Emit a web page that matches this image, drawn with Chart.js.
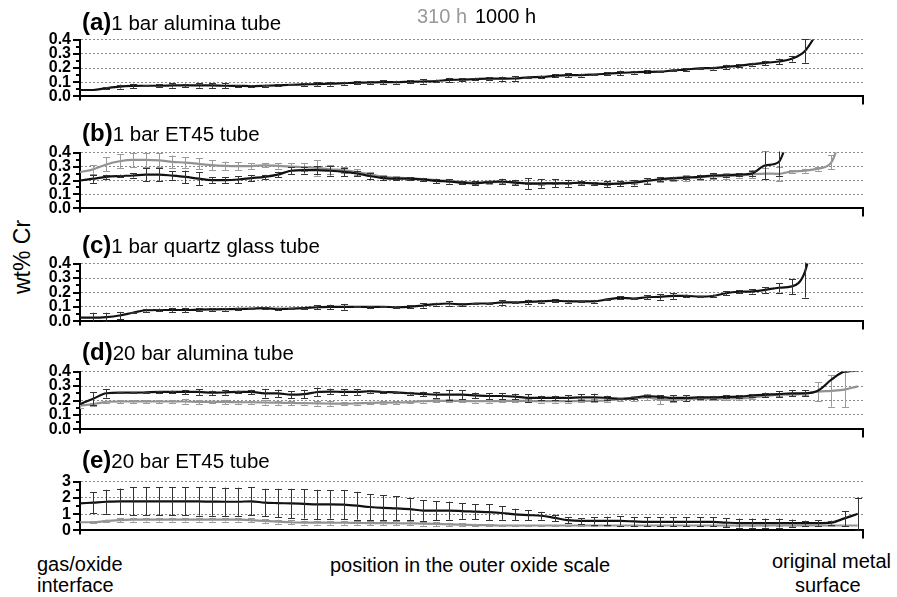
<!DOCTYPE html>
<html>
<head>
<meta charset="utf-8">
<script src="https://cdn.jsdelivr.net/npm/chart.js@4.4.1/dist/chart.umd.min.js"></script>
<style>
	body { margin: 0; width: 897px; height: 597px; background: #fff; position: relative; overflow: hidden;
		font-family: "Liberation Sans", Arial, sans-serif; color: #000; }
	canvas { position: absolute; left: 0; }
	.t { position: absolute; white-space: nowrap; font-size: 20px; line-height: 20px; z-index: 2; }
	.title { position: absolute; left: 82px; white-space: nowrap; font-size: 24px; line-height: 24px; z-index: 2; }
	.title b { font-size: 24px; }
	.title span { font-size: 20.5px; }
	.ylab { position: absolute; left: 22px; top: 257px; font-size: 23px; line-height: 23px; white-space: nowrap;
		transform: translate(-50%, -50%) rotate(-90deg); }
</style>
</head>
<body>

<div class="t" style="left:417px;top:6px;color:#999">310 h</div>
<div class="t" style="left:475px;top:6px">1000 h</div>

<div class="title" style="top:10px"><b>(a)</b><span>1 bar alumina tube</span></div>
<div class="title" style="top:121px"><b>(b)</b><span>1 bar ET45 tube</span></div>
<div class="title" style="top:233px"><b>(c)</b><span>1 bar quartz glass tube</span></div>
<div class="title" style="top:340px"><b>(d)</b><span>20 bar alumina tube</span></div>
<div class="title" style="top:448px"><b>(e)</b><span>20 bar ET45 tube</span></div>

<div class="ylab">wt% Cr</div>

<div class="t" style="left:37px;top:554px">gas/oxide</div>
<div class="t" style="left:37px;top:575px">interface</div>
<div class="t" style="left:330px;top:555px">position in the outer oxide scale</div>
<div class="t" style="left:772px;top:551px">original metal</div>
<div class="t" style="left:795px;top:575px">surface</div>

<script>
// measuring positions along the scale (index of each point)
const positions = [0,1,2,3,4,5,6,7,8,9,10,11,12,13,14,15,16,17,18,19,20,21,22,23,24,25,26,27,28,29,
	30,31,32,33,34,35,36,37,38,39,40,41,42,43,44,45,46,47,48,49,50,51,52,53,54,55,56,57,58,59];

// (a) 1 bar alumina tube
const aBlack = [0.045,0.045,0.058,0.069,0.074,0.075,0.075,0.077,0.078,0.077,0.077,0.075,0.074,0.073,0.075,
	0.078,0.082,0.084,0.087,0.089,0.093,0.097,0.098,0.1,0.1,0.103,0.105,0.108,0.116,0.118,
	0.122,0.125,0.125,0.126,0.135,0.137,0.145,0.15,0.15,0.154,0.16,0.166,0.17,0.173,0.174,
	0.183,0.189,0.198,0.199,0.208,0.215,0.227,0.236,0.246,0.265,0.32,0.46];
const aBlackErr = [0,0,0.005,0.014,0.015,0.005,0.01,0.015,0.012,0.015,0.017,0.017,0.005,0.005,0.008,
	0.008,0.005,0.008,0.012,0.014,0.01,0.012,0.01,0.012,0.01,0.01,0.015,0.01,0.015,0.01,
	0.01,0.01,0.015,0.015,0.005,0.01,0.01,0.015,0.01,0.005,0.01,0.015,0.01,0.01,0.005,
	0.005,0.01,0.005,0.01,0.015,0.01,0.01,0.015,0.02,0.02,0.083,0];

// (b) 1 bar ET45 tube
const bBlack = [0.2,0.213,0.226,0.232,0.236,0.242,0.242,0.235,0.226,0.213,0.203,0.203,0.207,0.217,0.226,
	0.242,0.27,0.275,0.275,0.27,0.262,0.25,0.232,0.217,0.213,0.213,0.207,0.197,0.193,0.184,
	0.18,0.19,0.193,0.185,0.178,0.178,0.18,0.18,0.184,0.178,0.174,0.178,0.184,0.197,0.209,
	0.217,0.222,0.226,0.236,0.238,0.242,0.251,0.309,0.332,0.6];
const bBlackErr = [0,0.03,0.015,0.01,0.015,0.045,0.045,0.03,0.045,0.045,0.02,0.02,0.025,0.02,0.015,
	0.02,0.025,0.025,0.03,0.035,0.03,0.02,0.02,0.015,0.01,0.01,0.01,0.015,0.015,0.01,
	0.015,0.01,0.02,0.02,0.04,0.03,0.03,0.025,0.015,0.01,0.02,0.02,0.02,0.02,0.015,
	0.01,0.01,0.015,0.015,0.01,0.01,0.02,0.1,0.1,0];
const bGray = [0.26,0.28,0.315,0.338,0.348,0.348,0.344,0.334,0.328,0.319,0.31,0.305,0.303,0.303,0.309,
	0.305,0.3,0.295,0.29,0.28,0.275,0.26,0.245,0.226,0.22,0.215,0.21,0.203,0.197,0.19,
	0.185,0.188,0.19,0.185,0.182,0.18,0.182,0.182,0.184,0.18,0.18,0.182,0.188,0.2,0.205,
	0.212,0.218,0.222,0.23,0.232,0.236,0.245,0.25,0.248,0.265,0.27,0.285,0.33,0.6];
const bGrayErr = [0,0.03,0.05,0.05,0.05,0.05,0.05,0.045,0.04,0.04,0.035,0.03,0.03,0.02,0.015,
	0.02,0.025,0.03,0.055,0.03,0.02,0.02,0.015,0.01,0.01,0.01,0.01,0.01,0.01,0.01,
	0.01,0.01,0.01,0.01,0.01,0.01,0.01,0.01,0.01,0.01,0.01,0.01,0.01,0.015,0.015,
	0.015,0.02,0.02,0.02,0.02,0.015,0.03,0.04,0.05,0.01,0.015,0.015,0.05,0];

// (c) 1 bar quartz glass tube
const cBlack = [0.026,0.026,0.03,0.041,0.06,0.077,0.079,0.079,0.079,0.081,0.083,0.085,0.086,0.088,0.092,
	0.086,0.088,0.092,0.098,0.101,0.101,0.101,0.101,0.101,0.098,0.101,0.11,0.12,0.124,0.117,
	0.124,0.124,0.131,0.131,0.135,0.139,0.143,0.139,0.139,0.139,0.152,0.163,0.158,0.167,0.17,
	0.176,0.176,0.172,0.176,0.195,0.205,0.208,0.218,0.233,0.242,0.345,0.75];
const cBlackErr = [0,0.034,0.03,0.025,0.005,0.01,0.01,0.015,0.015,0.01,0.01,0.01,0.01,0.005,0.005,
	0.005,0.003,0.003,0.015,0.015,0.02,0.003,0.005,0.003,0.005,0.01,0.015,0.01,0.015,0.01,
	0.003,0.005,0.015,0.005,0.015,0.01,0.01,0.01,0.005,0.01,0.005,0.01,0.005,0.015,0.02,
	0.02,0.01,0.005,0.01,0.015,0.01,0.015,0.02,0.033,0.053,0.18,0];

// (d) 20 bar alumina tube
const dBlack = [0.175,0.212,0.25,0.254,0.254,0.256,0.259,0.259,0.259,0.259,0.254,0.256,0.259,0.259,0.25,
	0.25,0.24,0.244,0.259,0.262,0.259,0.259,0.264,0.259,0.256,0.25,0.246,0.24,0.24,0.24,
	0.235,0.231,0.231,0.227,0.218,0.218,0.218,0.218,0.222,0.222,0.218,0.212,0.218,0.231,0.225,
	0.218,0.218,0.222,0.222,0.225,0.227,0.235,0.24,0.244,0.25,0.25,0.269,0.344,0.4,0.405];
const dBlackErr = [0,0.045,0.03,0.005,0.005,0.005,0.005,0.01,0.015,0.02,0.015,0.015,0.01,0.015,0.03,
	0.025,0.025,0.03,0.03,0.02,0.02,0.02,0.01,0.005,0.005,0.01,0.015,0.02,0.035,0.03,
	0.02,0.02,0.02,0.02,0.025,0.015,0.015,0.02,0.02,0.025,0.015,0.005,0.005,0.01,0.01,
	0.02,0.02,0.01,0.01,0.01,0.01,0.01,0.015,0.02,0.02,0.02,0,0,0,0];
const dGray = [0.165,0.175,0.19,0.193,0.193,0.193,0.193,0.193,0.193,0.19,0.19,0.19,0.188,0.188,0.186,
	0.185,0.183,0.182,0.18,0.179,0.178,0.18,0.183,0.185,0.186,0.19,0.195,0.197,0.197,0.197,
	0.195,0.195,0.197,0.197,0.197,0.195,0.195,0.195,0.197,0.197,0.2,0.21,0.215,0.222,0.205,
	0.205,0.21,0.212,0.212,0.214,0.215,0.22,0.231,0.24,0.24,0.25,0.262,0.267,0.275,0.298];
const dGrayErr = [0.02,0.01,0.01,0.01,0.01,0.01,0.01,0.01,0.015,0.015,0.01,0.015,0.01,0.01,0.015,
	0.015,0.015,0.01,0.015,0.015,0.01,0.01,0.01,0.01,0.01,0.01,0.01,0.01,0.01,0.01,
	0.01,0.01,0.01,0.01,0.01,0.01,0.01,0.01,0.01,0.01,0.01,0.01,0.015,0.02,0.03,
	0.015,0.01,0.01,0.01,0.01,0.01,0.01,0.01,0.01,0.01,0.01,0.065,0.11,0.12,0];

// (e) 20 bar ET45 tube
const eBlack = [1.66,1.71,1.76,1.79,1.79,1.79,1.79,1.79,1.79,1.78,1.77,1.76,1.76,1.79,1.71,
	1.68,1.66,1.63,1.6,1.6,1.58,1.52,1.44,1.39,1.36,1.31,1.22,1.21,1.21,1.19,
	1.15,1.12,1.07,0.98,0.94,0.9,0.77,0.63,0.58,0.58,0.58,0.58,0.55,0.52,0.52,
	0.52,0.52,0.52,0.52,0.48,0.45,0.45,0.45,0.45,0.45,0.45,0.45,0.48,0.74,1.02];
const eBlackErr = [0,0.65,0.74,0.78,0.87,0.87,0.87,0.87,0.87,0.87,0.87,0.87,0.87,0.87,0.85,
	0.88,0.9,0.9,0.9,0.88,0.88,0.85,0.8,0.78,0.73,0.67,0.63,0.6,0.56,0.48,
	0.47,0.48,0.42,0.35,0.3,0.24,0.2,0.18,0.18,0.22,0.26,0.28,0.28,0.28,0.28,
	0.28,0.28,0.28,0.28,0.28,0.28,0.28,0.28,0.28,0.22,0.15,0.16,0.12,0.46,1.0];
const eGray = [0.5,0.5,0.58,0.63,0.66,0.66,0.66,0.66,0.66,0.66,0.66,0.66,0.66,0.63,0.58,
	0.54,0.5,0.48,0.48,0.47,0.47,0.46,0.45,0.45,0.44,0.43,0.42,0.4,0.37,0.35,
	0.33,0.32,0.3,0.3,0.3,0.3,0.3,0.3,0.3,0.3,0.3,0.3,0.3,0.3,0.3,
	0.3,0.3,0.3,0.3,0.3,0.3,0.3,0.3,0.3,0.3,0.3,0.3,0.3,0.3,0.3];
const eGrayErr = [0,0.05,0.08,0.12,0.12,0.12,0.12,0.12,0.12,0.12,0.12,0.12,0.12,0.12,0.12,
	0.12,0.12,0.12,0.12,0.12,0.12,0.12,0.12,0.12,0.12,0.12,0.12,0.12,0.1,0.1,
	0.08,0.08,0.05,0.05,0.05,0.05,0.05,0.05,0.05,0.05,0.05,0.05,0.05,0.05,0.05,
	0.05,0.05,0.05,0.05,0.05,0.05,0.05,0.05,0.05,0.05,0.05,0.05,0.05,0.05,0];

const BLACK = '#111', BLACK_BAR = '#333', GRAY = '#929292', GRAY_BAR = '#9a9a9a';

const panels = [
	{ top: 33, bottom: 103, max: 0.4, major: 0.1, series: [[aBlack, aBlackErr, BLACK, BLACK_BAR]] },
	{ top: 146, bottom: 215, max: 0.4, major: 0.1, series: [[bBlack, bBlackErr, BLACK, BLACK_BAR], [bGray, bGrayErr, GRAY, GRAY_BAR]] },
	{ top: 257, bottom: 328, max: 0.4, major: 0.1, series: [[cBlack, cBlackErr, BLACK, BLACK_BAR]] },
	{ top: 365, bottom: 436, max: 0.4, major: 0.1, series: [[dBlack, dBlackErr, BLACK, BLACK_BAR], [dGray, dGrayErr, GRAY, GRAY_BAR]] },
	{ top: 475, bottom: 537, max: 3, major: 1, series: [[eBlack, eBlackErr, BLACK, BLACK_BAR], [eGray, eGrayErr, GRAY, GRAY_BAR]] }
];

function isMajor(v, major) {
	const r = v / major;
	return Math.abs(r - Math.round(r)) < 1e-6;
}

// error bars, drawn right after their own line
const errorBars = {
	id: 'errorBars',
	afterDatasetDraw(chart, args) {
		const ds = chart.data.datasets[args.index];
		const x = chart.scales.x, y = chart.scales.y, a = chart.chartArea;
		const ctx = chart.ctx;
		ctx.save();
		ctx.beginPath();
		ctx.rect(a.left, a.top - 1, a.right - a.left, a.bottom - a.top + 1);
		ctx.clip();
		ctx.strokeStyle = ds.barColor;
		ctx.lineWidth = 1;
		ds.data.forEach((p, i) => {
			const e = ds.errors[i];
			if (p.y == null || !e) return;
			const px = Math.round(x.getPixelForValue(p.x)) + 0.5;
			const y1 = y.getPixelForValue(p.y - e), y2 = y.getPixelForValue(p.y + e);
			ctx.beginPath();
			ctx.moveTo(px, y1); ctx.lineTo(px, y2);
			ctx.moveTo(px - 3.5, Math.round(y1) + 0.5); ctx.lineTo(px + 3.5, Math.round(y1) + 0.5);
			ctx.moveTo(px - 3.5, Math.round(y2) + 0.5); ctx.lineTo(px + 3.5, Math.round(y2) + 0.5);
			ctx.stroke();
		});
		ctx.restore();
	}
};

// tick marks on the value axis and the little ends of the position axis
const axisMarks = {
	id: 'axisMarks',
	afterDraw(chart) {
		const y = chart.scales.y, a = chart.chartArea, ctx = chart.ctx;
		const major = chart.options.scales.y.ticks.major_step;
		ctx.save();
		ctx.strokeStyle = '#000';
		ctx.lineWidth = 2;
		y.ticks.forEach(t => {
			const py = Math.round(y.getPixelForValue(t.value));
			const len = isMajor(t.value, major) ? 7 : 4;
			ctx.beginPath();
			ctx.moveTo(a.left - len, py); ctx.lineTo(a.left, py);
			ctx.stroke();
		});
		ctx.beginPath();
		ctx.moveTo(a.right, a.bottom); ctx.lineTo(a.right, a.bottom + 8);
		ctx.moveTo(a.left, a.bottom); ctx.lineTo(a.left, a.bottom + 4);
		ctx.stroke();
		ctx.restore();
	}
};

panels.forEach(p => {
	const canvas = document.createElement('canvas');
	canvas.width = 897;
	canvas.height = p.bottom - p.top + 24;
	canvas.style.top = (p.top - 12) + 'px';
	document.body.appendChild(canvas);

	const datasets = p.series.map(([values, errors, color, barColor]) => ({
		data: values.map((v, i) => ({ x: positions[i], y: v })),
		errors: errors,
		barColor: barColor,
		borderColor: color,
		borderWidth: 2.2,
		pointRadius: 0,
		fill: false,
		cubicInterpolationMode: 'monotone'
	}));

	new Chart(canvas, {
		type: 'line',
		data: { datasets: datasets },
		options: {
			responsive: false,
			animation: false,
			events: [],
			layout: { padding: { top: 12, bottom: 12, left: 0, right: 34 } },
			plugins: { legend: { display: false }, tooltip: { enabled: false } },
			scales: {
				x: {
					type: 'linear', min: 0, max: 59.4,
					ticks: { display: false },
					grid: { display: false, drawTicks: false },
					border: { color: '#000', width: 2 },
					afterFit: s => { s.height = 0; }
				},
				y: {
					min: 0, max: p.max,
					ticks: {
						stepSize: p.major / 2,
						major_step: p.major,
						autoSkip: false,
						padding: 9,
						color: '#000',
						font: { family: '"Liberation Sans", Arial, sans-serif', size: 16, weight: 'bold' },
						callback: v => isMajor(v, p.major) ? (p.major < 1 ? v.toFixed(1) : String(Math.round(v))) : ''
					},
					grid: {
						drawTicks: false,
						lineWidth: 1,
						color: c => (c.tick && c.tick.value > 1e-9 && isMajor(c.tick.value, p.major)) ? '#8a8a8a' : 'rgba(0,0,0,0)'
					},
					border: { color: '#000', width: 2, dash: [2, 2] },
					afterFit: s => { s.width = 80; }
				}
			}
		},
		plugins: [errorBars, axisMarks]
	});
});
</script>
</body>
</html>
